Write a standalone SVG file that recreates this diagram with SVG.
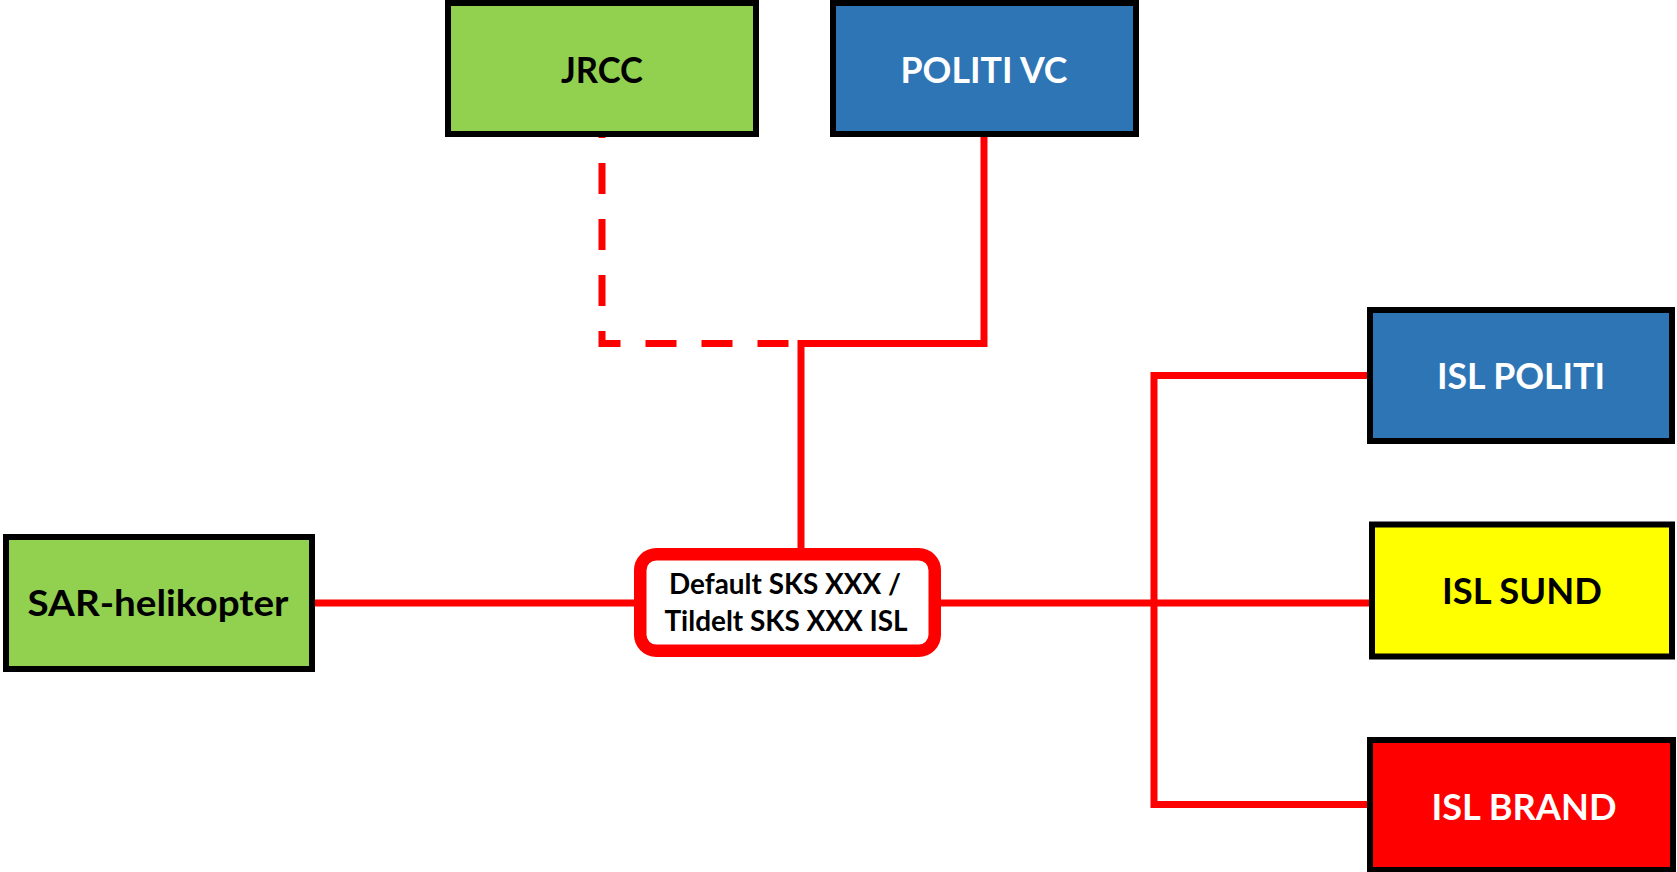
<svg xmlns="http://www.w3.org/2000/svg" width="1677" height="872" viewBox="0 0 1677 872">
<style>
.box{stroke:#000;stroke-width:6}
.green{fill:#92D050}
.blue{fill:#2E75B6}
.yellow{fill:#FFFF00}
.red{fill:#FF0000}
.lbl{font-family:Lato,"Open Sans","Liberation Sans",sans-serif;font-weight:bold;font-size:37px;text-anchor:middle}
.small{font-size:28px}
.w{fill:#fff}
.k{fill:#000}
.conn{fill:none;stroke:#FF0000;stroke-width:7;stroke-linejoin:miter}
</style>
<rect width="1677" height="872" fill="#fff"/>
<g id="connectors">
<path class="conn" d="M602,137 V343.5 H790" stroke-dasharray="31 25" stroke-dashoffset="30"/>
<path class="conn" d="M984,134 V343.5 H801 V554"/>
<path class="conn" d="M312,603 H640"/>
<path class="conn" d="M935,603 H1372"/>
<path class="conn" d="M1370,375.5 H1154 V804.5 H1370"/>
</g>
<g id="jrcc">
<rect class="box green" x="448" y="3" width="308" height="131"/>
<text class="lbl k" x="602" y="83" textLength="82" lengthAdjust="spacingAndGlyphs">JRCC</text>
</g>
<g id="politi-vc">
<rect class="box blue" x="833" y="3" width="303" height="131"/>
<text class="lbl w" x="984" y="83" textLength="167" lengthAdjust="spacingAndGlyphs">POLITI VC</text>
</g>
<g id="sar">
<rect class="box green" x="6" y="537" width="306" height="132"/>
<text class="lbl k" x="158" y="616" textLength="261" lengthAdjust="spacingAndGlyphs">SAR-helikopter</text>
</g>
<g id="center">
<rect x="640.25" y="554.25" width="294.5" height="96.5" rx="16" fill="#fff" stroke="#FF0000" stroke-width="12.5"/>
<text class="lbl small k" x="785" y="594" textLength="232" lengthAdjust="spacingAndGlyphs">Default SKS XXX /</text>
<text class="lbl small k" x="786" y="631" textLength="243" lengthAdjust="spacingAndGlyphs">Tildelt SKS XXX ISL</text>
</g>
<g id="isl-politi">
<rect class="box blue" x="1370" y="310" width="302" height="131"/>
<text class="lbl w" x="1521" y="389" textLength="168" lengthAdjust="spacingAndGlyphs">ISL POLITI</text>
</g>
<g id="isl-sund">
<rect class="box yellow" x="1372" y="524.5" width="300" height="132"/>
<text class="lbl k" x="1522" y="604" textLength="160" lengthAdjust="spacingAndGlyphs">ISL SUND</text>
</g>
<g id="isl-brand">
<rect class="box red" x="1370" y="740" width="303" height="130"/>
<text class="lbl w" x="1524" y="820" textLength="185" lengthAdjust="spacingAndGlyphs">ISL BRAND</text>
</g>
</svg>
